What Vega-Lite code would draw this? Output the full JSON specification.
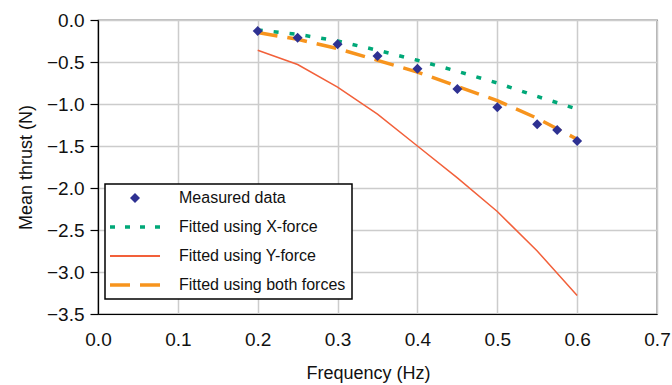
{
  "$schema": "https://vega.github.io/schema/vega-lite/v6.json",
  "width": 559,
  "height": 294,
  "autosize": {"type": "none"},
  "padding": {"left": 98, "top": 20, "right": 15, "bottom": 71},
  "background": "white",
  "config": {
    "font": "Liberation Sans",
    "view": {"stroke": "black", "strokeWidth": 1.2},
    "axis": {
      "labelFont": "Liberation Sans",
      "labelFontSize": 19,
      "labelColor": "#111111",
      "titleFont": "Liberation Sans",
      "titleFontSize": 18,
      "titleFontWeight": "normal",
      "titleColor": "#111111",
      "gridColor": "#cccccc",
      "gridWidth": 1.5,
      "domainColor": "black",
      "domainWidth": 1.2,
      "tickColor": "black",
      "tickWidth": 1.2
    }
  },
  "datasets": {
    "measured": [
      {"freq": 0.2, "thrust": -0.13, "series": "Measured data"},
      {"freq": 0.25, "thrust": -0.21, "series": "Measured data"},
      {"freq": 0.3, "thrust": -0.29, "series": "Measured data"},
      {"freq": 0.35, "thrust": -0.43, "series": "Measured data"},
      {"freq": 0.4, "thrust": -0.58, "series": "Measured data"},
      {"freq": 0.45, "thrust": -0.82, "series": "Measured data"},
      {"freq": 0.5, "thrust": -1.04, "series": "Measured data"},
      {"freq": 0.55, "thrust": -1.24, "series": "Measured data"},
      {"freq": 0.575, "thrust": -1.31, "series": "Measured data"},
      {"freq": 0.6, "thrust": -1.44, "series": "Measured data"}
    ],
    "xfit": [
      {"freq": 0.2, "thrust": -0.12, "series": "Fitted using X-force"},
      {"freq": 0.25, "thrust": -0.17, "series": "Fitted using X-force"},
      {"freq": 0.3, "thrust": -0.25, "series": "Fitted using X-force"},
      {"freq": 0.35, "thrust": -0.36, "series": "Fitted using X-force"},
      {"freq": 0.4, "thrust": -0.48, "series": "Fitted using X-force"},
      {"freq": 0.45, "thrust": -0.61, "series": "Fitted using X-force"},
      {"freq": 0.5, "thrust": -0.75, "series": "Fitted using X-force"},
      {"freq": 0.55, "thrust": -0.91, "series": "Fitted using X-force"},
      {"freq": 0.6, "thrust": -1.06, "series": "Fitted using X-force"}
    ],
    "yfit": [
      {"freq": 0.2, "thrust": -0.36, "series": "Fitted using Y-force"},
      {"freq": 0.25, "thrust": -0.53, "series": "Fitted using Y-force"},
      {"freq": 0.3, "thrust": -0.80, "series": "Fitted using Y-force"},
      {"freq": 0.35, "thrust": -1.12, "series": "Fitted using Y-force"},
      {"freq": 0.4, "thrust": -1.50, "series": "Fitted using Y-force"},
      {"freq": 0.45, "thrust": -1.88, "series": "Fitted using Y-force"},
      {"freq": 0.5, "thrust": -2.28, "series": "Fitted using Y-force"},
      {"freq": 0.55, "thrust": -2.75, "series": "Fitted using Y-force"},
      {"freq": 0.6, "thrust": -3.28, "series": "Fitted using Y-force"}
    ],
    "bothfit": [
      {"freq": 0.2, "thrust": -0.15, "series": "Fitted using both forces"},
      {"freq": 0.25, "thrust": -0.23, "series": "Fitted using both forces"},
      {"freq": 0.3, "thrust": -0.34, "series": "Fitted using both forces"},
      {"freq": 0.35, "thrust": -0.48, "series": "Fitted using both forces"},
      {"freq": 0.4, "thrust": -0.62, "series": "Fitted using both forces"},
      {"freq": 0.45, "thrust": -0.79, "series": "Fitted using both forces"},
      {"freq": 0.5, "thrust": -0.96, "series": "Fitted using both forces"},
      {"freq": 0.55, "thrust": -1.17, "series": "Fitted using both forces"},
      {"freq": 0.6, "thrust": -1.42, "series": "Fitted using both forces"}
    ]
  },
  "encoding": {
    "x": {
      "field": "freq",
      "type": "quantitative",
      "title": "Frequency (Hz)",
      "scale": {"domain": [0, 0.7], "nice": false, "zero": false},
      "axis": {
        "values": [0, 0.1, 0.2, 0.3, 0.4, 0.5, 0.6, 0.7],
        "format": ".1f",
        "ticks": false,
        "tickSize": 0,
        "labelPadding": 16,
        "labelFlush": false,
        "titleX": 270,
        "titleY": 64,
        "titleBaseline": "alphabetic"
      }
    },
    "y": {
      "field": "thrust",
      "type": "quantitative",
      "title": "Mean thrust (N)",
      "scale": {"domain": [-3.5, 0], "nice": false, "zero": false},
      "axis": {
        "values": [-3.5, -3, -2.5, -2, -1.5, -1, -0.5, 0],
        "format": ".1f",
        "tickSize": 8,
        "labelPadding": 6,
        "labelFlush": false,
        "titleX": -67,
        "titleBaseline": "alphabetic"
      }
    },
    "color": {
      "field": "series",
      "type": "nominal",
      "scale": {
        "domain": ["Measured data", "Fitted using X-force", "Fitted using Y-force", "Fitted using both forces"],
        "range": ["#2E3192", "#00A878", "#F2603A", "#F7941D"]
      },
      "legend": {
        "title": null,
        "orient": "none",
        "legendX": 7,
        "legendY": 164,
        "padding": 6,
        "strokeColor": "black",
        "fillColor": "white",
        "labelFont": "Liberation Sans",
        "labelFontSize": 16,
        "labelColor": "#111111",
        "labelLimit": 400,
        "symbolSize": 400,
        "symbolOffset": 16,
        "labelOffset": 36,
        "rowPadding": 13,
        "encode": {
          "legend": {
            "update": {
              "strokeWidth": {"value": 1.5}
            }
          },
          "symbols": {
            "update": {
              "shape": {"signal": "datum.value === 'Measured data' ? 'M0,-0.5L0.5,0L0,0.5L-0.5,0Z' : 'M-2.5,0H2.5'"},
              "stroke": {"scale": "color", "field": "value"},
              "fill": {"signal": "datum.value === 'Measured data' ? '#2E3192' : 'transparent'"},
              "strokeWidth": {"signal": "datum.value === 'Measured data' ? 0 : (datum.value === 'Fitted using Y-force' ? 2 : 3.5)"},
              "strokeDash": {"signal": "datum.value === 'Fitted using X-force' ? [5, 10] : (datum.value === 'Fitted using both forces' ? [20, 10] : [1, 0])"},
              "opacity": {"value": 1}
            }
          }
        }
      }
    }
  },
  "layer": [
    {
      "data": {"name": "yfit"},
      "mark": {"type": "line", "strokeWidth": 1.5}
    },
    {
      "data": {"name": "xfit"},
      "mark": {"type": "line", "strokeWidth": 3.5, "strokeDash": [5, 11]}
    },
    {
      "data": {"name": "bothfit"},
      "mark": {"type": "line", "strokeWidth": 3.5, "strokeDash": [20, 10]}
    },
    {
      "data": {"name": "measured"},
      "mark": {"type": "point", "shape": "diamond", "filled": true, "size": 100, "opacity": 1}
    }
  ]
}
